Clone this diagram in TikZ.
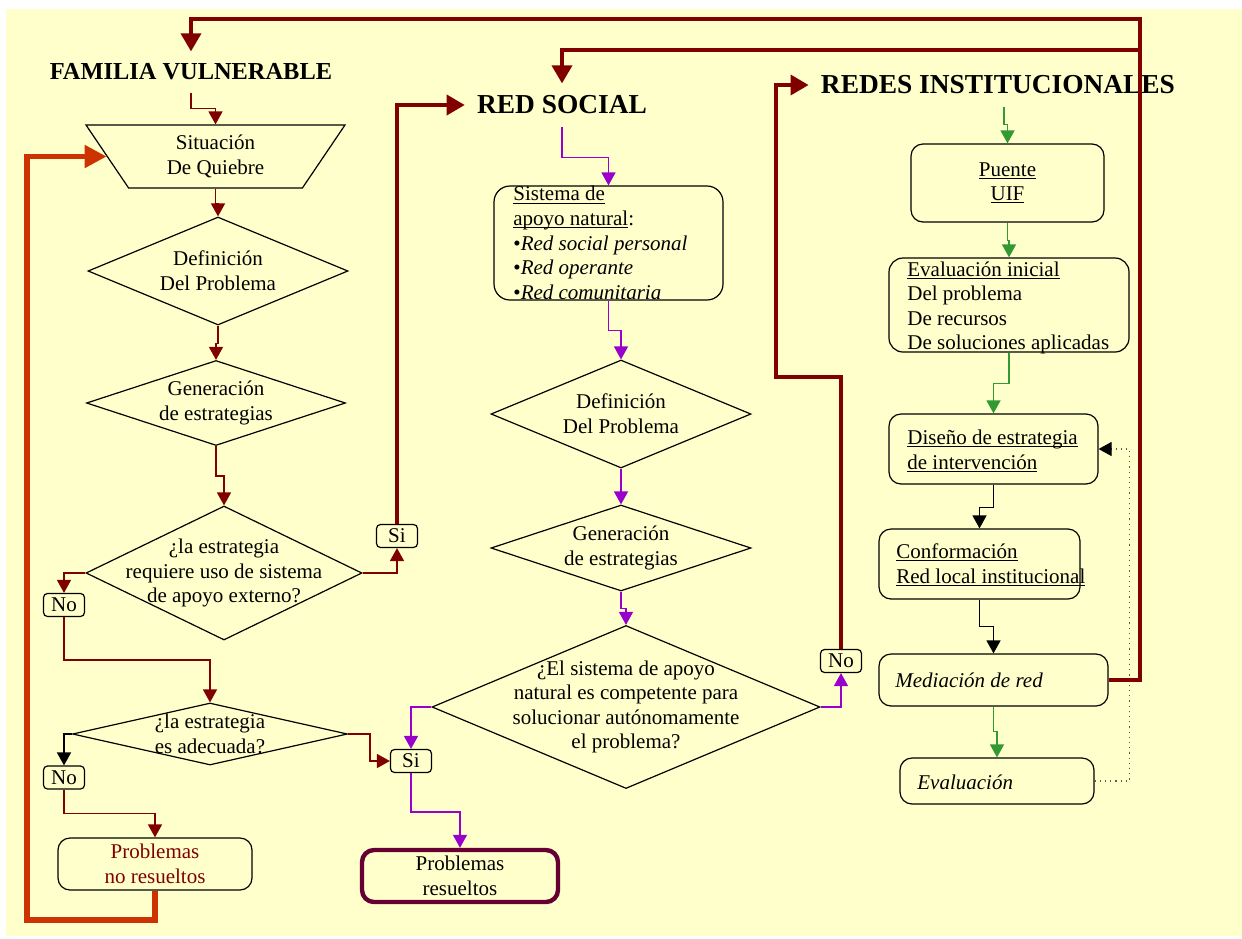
\documentclass[tikz,border=0pt]{standalone}
\usepackage{fontspec}
\setmainfont{Liberation Serif}
\usetikzlibrary{arrows.meta,shapes.geometric}

\definecolor{fondo}{RGB}{255,255,204}
\definecolor{granate}{RGB}{128,0,0}
\definecolor{naranja}{RGB}{204,51,0}
\definecolor{violeta}{RGB}{153,0,204}
\definecolor{verde}{RGB}{51,153,51}
\definecolor{ciruela}{RGB}{102,0,51}

% subrayado pegado a la linea base
\newcommand{\subrayado}[1]{\setbox0\hbox{#1}\rlap{\rule[-1.3pt]{\wd0}{0.5pt}}\box0}

\tikzset{
  caja/.style={draw, line width=0.6pt, rounded corners=6pt, align=center, inner ysep=2pt},
  sino/.style={draw, line width=0.6pt, rounded corners=2pt, inner sep=1pt, minimum width=20.5pt, minimum height=11.5pt},
  rombo/.style={draw, diamond, line width=0.6pt, inner sep=0pt},
  texto/.style={align=center, inner sep=0pt},
  textoizq/.style={anchor=west, align=left, inner sep=0pt},
  titulo/.style={font=\bfseries\fontsize{#1}{16}\selectfont, inner sep=6pt},
  titulo/.default=13.7,
  fl/.style={line width=0.75pt, -{Triangle[length=6.5pt,width=7pt]}},
  gruesa/.style={granate, line width=1.8pt, -{Triangle[length=9pt,width=10pt]}}
}

\begin{document}
\begin{tikzpicture}[x=0.5pt, y=-0.5pt, font=\fontsize{10.5}{12.3}\selectfont]
 \useasboundingbox (0,0) rectangle (1242,938);
 \fill[fondo] (6,9) rectangle (1242,936);

 % titulos
 \node[titulo=12.2] (fam) at (191,72) {FAMILIA VULNERABLE};
 \node[titulo] (red) at (562,105) {RED SOCIAL};
 \node[titulo] (rin) at (998,85) {REDES INSTITUCIONALES};

 % familia vulnerable
 \node[draw, trapezium, shape border rotate=180, trapezium angle=45, trapezium stretches body,
       minimum width=129.5pt, minimum height=31.5pt, inner sep=0pt, line width=0.6pt, align=center]
       (sq) at (215.5,156.5) {Situación\\De Quiebre};
 \node[rombo, minimum width=130pt, minimum height=54pt] (d1) at (218,271) {};
 \node[texto] (d1t) at (d1) {Definición\\Del Problema};
 \node[rombo, minimum width=129.5pt, minimum height=42.5pt] (d2) at (216,403) {};
 \node[texto] (d2t) at (d2) {Generación\\de estrategias};
 \node[rombo, minimum width=138pt, minimum height=67pt] (d3) at (224,573) {};
 \node[texto] (d3t) at (d3) {¿la estrategia\\requiere uso de sistema\\de apoyo externo?};
 \node[rombo, minimum width=137.5pt, minimum height=31pt] (d4) at (210,734) {};
 \node[texto] (d4t) at (d4) {¿la estrategia\\es adecuada?};
 \node[sino] (si1) at (397,536) {Si};
 \node[sino] (no1) at (64,605) {No};
 \node[sino] (no2) at (64,777.5) {No};
 \node[sino] (si2) at (411,761) {Si};
 \node[caja, text=granate, minimum width=97pt, minimum height=26pt] (nr) at (155,864) {Problemas\\no resueltos};

 % red social
 \node[caja, rounded corners=8pt, minimum width=114.5pt, minimum height=57pt] (sis) at (608.5,243) {};
 \node[textoizq] (sist) at (513,243) {\subrayado{Sistema de}\\\subrayado{apoyo natural}:\\\textbullet\textit{Red social personal}\\\textbullet\textit{Red operante}\\\textbullet\textit{Red comunitaria}};
 \node[rombo, minimum width=130pt, minimum height=54pt] (d5) at (621,414) {};
 \node[texto] (d5t) at (d5) {Definición\\Del Problema};
 \node[rombo, minimum width=130pt, minimum height=43pt] (d6) at (621,548) {};
 \node[texto] (d6t) at (d6) {Generación\\de estrategias};
 \node[rombo, minimum width=194pt, minimum height=81.5pt] (d7) at (626,707) {};
 \node[texto] (d7t) at (d7) {¿El sistema de apoyo\\natural es competente para\\solucionar autónomamente\\el problema?};
 \node[sino] (no3) at (841,661) {No};
 \node[caja, draw=ciruela, line width=2.2pt, minimum width=98pt, minimum height=26pt] (res) at (460,876) {Problemas\\resueltos};

 % redes institucionales
 \node[caja, minimum width=96.5pt, minimum height=39pt] (uif) at (1007.5,183) {\subrayado{Puente}\\\subrayado{UIF}};
 \node[caja, rounded corners=7pt, minimum width=120pt, minimum height=47pt] (evi) at (1009,305) {};
 \node[textoizq] (evit) at (907,308) {\subrayado{Evaluación inicial}\\Del problema\\De recursos\\De soluciones aplicadas};
 \node[caja, minimum width=104.5pt, minimum height=35pt] (dis) at (993.5,449) {};
 \node[textoizq] (dist) at (907,451) {\subrayado{Diseño de estrategia}\\\subrayado{de intervención}};
 \node[caja, minimum width=100.5pt, minimum height=35pt] (con) at (979.5,564) {};
 \node[textoizq] (cont) at (896,565) {\subrayado{Conformación}\\\subrayado{Red local institucional}};
 \node[caja, minimum width=114.5pt, minimum height=26pt] (med) at (993.5,680) {};
 \node[textoizq] (medt) at (895,680) {\textit{Mediación de red}};
 \node[caja, minimum width=97pt, minimum height=23pt] (eva) at (997,781) {};
 \node[textoizq] (evat) at (917,782) {\textit{Evaluación}};

 \begin{scope}[granate]
  \draw[fl] (fam.south) -- ++(0,16) -| (sq.north);
  \draw[fl] (sq.south) -- ++(0,15) -| (d1.north);
  \draw[fl] (d1.south) -- ++(0,18) -| (d2.north);
  \draw[fl] (d2.south) -- ++(0,30) -| (d3.north);
  \draw[fl] (d3.east) -| (si1.south);
  \draw[fl] (d3.west) -| (no1.north);
  \draw[fl] (no1.south) -- ++(0,43) -| (d4.north);
  \draw[fl] (no2.south) -- ++(0,24) -| (nr.north);
  \draw[fl] (d4.east) -- ++(22,0) |- (si2.west);
 \end{scope}
 \draw[fl] (d4.west) -| (no2.north);

 \begin{scope}[violeta]
  \draw[fl] (red.south) -- ++(0,31) -| (sis.north);
  \draw[fl] (sis.south) -- ++(0,30) -| (d5.north);
  \draw[fl] (d5.south) -- (d6.north);
  \draw[fl] (d6.south) -- ++(0,17) -| (d7.north);
  \draw[fl] (d7.west) -| (si2.north);
  \draw[fl] (d7.east) -| (no3.south);
  \draw[fl] (si2.south) -- ++(0,39) -| (res.north);
 \end{scope}

 \begin{scope}[verde]
  \draw[fl] ([xshift=3pt]rin.south) -- ++(0,18) -| (uif.north);
  \draw[fl] (uif.south) -- ++(0,18) -| (evi.north);
  \draw[fl] (evi.south) -- ++(0,31) -| (dis.north);
  \draw[fl] (med.south) -- ++(0,25) -| (eva.north);
 \end{scope}
 \draw[fl] (dis.south) -- ++(0,23) -| (con.north);
 \draw[fl] (con.south) -- ++(0,27) -| (med.north);
 \draw[dotted, gray!70!black, line width=0.6pt, -{Triangle[length=6.5pt,width=7pt,color=black,fill=black]}]
   (eva.east) -- ++(35,0) |- (dis.east);

 % lazos gruesos
 \coordinate (jB) at (1140,50);
 \draw[gruesa] (med.east) -| (1140,19) -| (fam.north);
 \draw[gruesa] (jB) -| (red.north);
 \draw[gruesa] (si1.north) |- (red.west);
 \draw[gruesa] (no3.north) |- (776,377) |- (rin.west);
 \draw[naranja, line width=2.6pt, -{Triangle[length=11pt,width=11pt]}] (nr.south) |- (27,920) |- (sq.west);
\end{tikzpicture}
\end{document}
